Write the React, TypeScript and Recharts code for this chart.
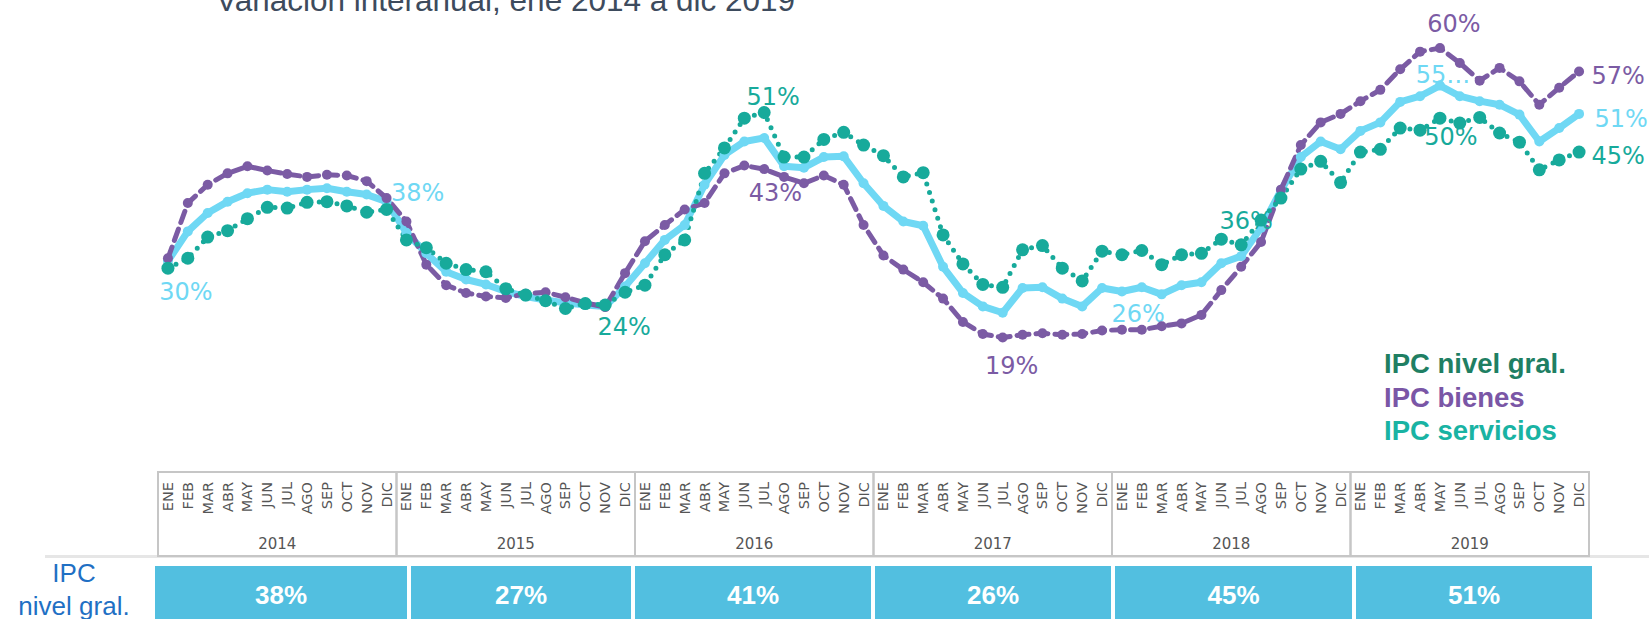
import { ComposedChart, Line, XAxis, YAxis } from "recharts";

const MONTHS = ["ENE", "FEB", "MAR", "ABR", "MAY", "JUN", "JUL", "AGO", "SEP", "OCT", "NOV", "DIC"];
const YEARS = ["2014", "2015", "2016", "2017", "2018", "2019"];

// variación interanual, % (ene 2014 .. dic 2019)
const IPC_GRAL = [
  29.8, 34.0, 36.6, 38.2, 39.4, 39.9, 39.6, 39.9, 40.1, 39.6, 39.2, 38.2,
  33.8, 30.9, 28.3, 27.2, 26.5, 25.5, 24.8, 24.3, 23.9, 23.6, 23.4, 26.2,
  29.5, 32.8, 34.9, 40.6, 44.8, 46.7, 47.2, 43.2, 43.0, 44.5, 44.6, 40.8,
  37.6, 35.4, 34.8, 29.0, 25.3, 23.4, 22.5, 26.0, 26.1, 24.5, 23.4, 26.0,
  25.5, 26.1, 25.1, 26.4, 26.8, 29.5, 30.5, 34.5, 39.8, 44.5, 46.7, 45.6,
  48.2, 49.4, 52.3, 53.1, 54.6, 53.1, 52.4, 51.9, 50.5, 46.7, 48.6, 50.6,
];
const IPC_BIENES = [
  30.2, 38.0, 40.6, 42.2, 43.2, 42.6, 42.1, 41.7, 42.0, 41.9, 41.1, 38.7,
  35.4, 29.3, 26.4, 25.3, 24.8, 24.6, 25.2, 25.4, 24.7, 23.9, 23.3, 28.1,
  32.6, 34.9, 37.1, 38.0, 42.2, 43.3, 42.8, 41.7, 40.8, 41.9, 40.6, 34.9,
  30.6, 28.6, 26.8, 24.5, 21.2, 19.5, 19.0, 19.4, 19.6, 19.4, 19.5, 20.0,
  20.1, 20.1, 20.6, 21.0, 22.2, 25.7, 29.0, 32.5, 39.9, 46.2, 49.4, 50.6,
  52.4, 54.0, 56.9, 59.4, 59.9, 57.8, 55.3, 57.1, 55.2, 51.9, 54.3, 56.6,
];
const IPC_SERVICIOS = [
  28.8, 30.2, 33.2, 34.1, 35.8, 37.4, 37.3, 38.1, 38.2, 37.6, 36.7, 37.1,
  32.8, 31.7, 29.5, 28.6, 28.3, 25.9, 25.0, 24.2, 23.1, 23.8, 23.6, 25.4,
  26.4, 30.7, 32.8, 42.2, 45.8, 50.0, 50.8, 44.5, 44.5, 47.0, 48.0, 46.2,
  44.7, 41.7, 42.3, 33.5, 29.4, 26.5, 26.1, 31.4, 32.0, 28.8, 27.0, 31.2,
  30.7, 31.3, 29.3, 30.7, 30.9, 32.9, 32.1, 35.6, 38.7, 42.8, 43.9, 40.9,
  45.2, 45.6, 48.6, 48.3, 50.0, 49.3, 50.1, 47.9, 46.6, 42.7, 44.1, 45.2,
];
const ANNUAL_GRAL = [38, 27, 41, 26, 45, 51];

const COLOR_GRAL = "#6fd8f4";
const COLOR_BIENES = "#7b5ba4";
const COLOR_SERV = "#17aa9b";

const W = 1649;
const H = 619;
const MARGIN = { top: 12, right: 60, bottom: 62, left: 158 };
const PLOT_W = W - MARGIN.left - MARGIN.right;
const STEP = PLOT_W / 72;

// label placement, offsets from the point (px)
type LabelSpec = { dx: number; dy: number; trunc?: boolean };
const LABELS_GRAL: Record<number, LabelSpec> = {
  0: { dx: 18, dy: 31 },
  11: { dx: 31, dy: -9 },
  47: { dx: 36, dy: 26 },
  64: { dx: 3, dy: -11, trunc: true },
  71: { dx: 42, dy: 5 },
};
const LABELS_BIENES: Record<number, LabelSpec> = {
  29: { dx: 31, dy: 27 },
  42: { dx: 9, dy: 28 },
  64: { dx: 14, dy: -24 },
  71: { dx: 39, dy: 5 },
};
const LABELS_SERV: Record<number, LabelSpec> = {
  22: { dx: 19, dy: 22 },
  30: { dx: 9, dy: -15 },
  55: { dx: -15, dy: 1 },
  64: { dx: 11, dy: 19 },
  71: { dx: 39, dy: 4 },
};

const data = IPC_GRAL.map((v, i) => ({
  idx: i,
  gral: v,
  bienes: IPC_BIENES[i],
  servicios: IPC_SERVICIOS[i],
}));

function makeDot(color: string, r: number, key: string, labels: Record<number, LabelSpec>) {
  return (p: any) => {
    const { cx, cy, index } = p;
    const v = p.payload[key];
    const lab = labels[index];
    return (
      <g key={`${key}-${index}`}>
        <circle cx={cx} cy={cy} r={r} fill={color} />
        {lab && (
          <text
            x={cx + lab.dx}
            y={cy + lab.dy}
            textAnchor="middle"
            dominantBaseline="central"
            fill={color}
            fontSize={24}
            fontFamily="DejaVu Sans"
          >
            {lab.trunc ? `${Math.round(v)}…` : `${Math.round(v)}%`}
          </text>
        )}
      </g>
    );
  };
}

function MonthTick(props: any) {
  const { x, y, payload } = props;
  const i = payload.value as number;
  const left = x - STEP / 2;
  return (
    <g>
      {i % 12 === 0 && (
        <g>
          <rect x={left} y={y} width={STEP * 12} height={84} fill="none" stroke="#c6c6c6" strokeWidth={2} />
          <text
            x={left + STEP * 6}
            y={y + 72}
            textAnchor="middle"
            dominantBaseline="central"
            fontSize={15}
            fontFamily="DejaVu Sans"
            fill="#555"
          >
            {YEARS[i / 12]}
          </text>
        </g>
      )}
      <text
        transform={`translate(${x},${y + 10}) rotate(-90)`}
        textAnchor="end"
        dominantBaseline="central"
        fontSize={14.5}
        fontFamily="DejaVu Sans"
        fill="#555"
      >
        {MONTHS[i % 12]}
      </text>
    </g>
  );
}

const BOX_WIDTHS = [252, 220, 236, 236, 237, 236];

export default function App() {
  return (
    <div
      style={{
        position: "fixed",
        left: 0,
        top: 0,
        width: W,
        height: H,
        overflow: "hidden",
        background: "#fff",
        fontFamily: "'Liberation Sans', Arial, sans-serif",
      }}
    >
      <div
        style={{
          position: "absolute",
          left: 216,
          top: -16,
          fontSize: 31.5,
          lineHeight: "32px",
          color: "#3d4b5d",
          whiteSpace: "nowrap",
        }}
      >
        Variación interanual, ene 2014 a dic 2019
      </div>

      <div style={{ position: "absolute", left: 45, top: 555, width: W - 45, height: 3, background: "#e6e6e6" }} />

      <div style={{ position: "absolute", left: 0, top: 0 }}>
        <ComposedChart width={W} height={H} data={data} margin={MARGIN}>
          <XAxis
            dataKey="idx"
            type="number"
            domain={[-0.5, 71.5]}
            ticks={data.map((d) => d.idx)}
            interval={0}
            height={85}
            axisLine={false}
            tickLine={false}
            tickSize={0}
            tickMargin={0}
            tick={(p: any) => <MonthTick {...p} />}
          />
          <YAxis hide type="number" domain={[0, 65]} />
          <Line
            dataKey="gral"
            type="linear"
            stroke={COLOR_GRAL}
            strokeWidth={7}
            strokeLinejoin="round"
            dot={makeDot(COLOR_GRAL, 5, "gral", LABELS_GRAL)}
            activeDot={false}
            isAnimationActive={false}
          />
          <Line
            dataKey="bienes"
            type="linear"
            stroke={COLOR_BIENES}
            strokeWidth={5}
            strokeDasharray="12 7"
            strokeLinecap="round"
            dot={makeDot(COLOR_BIENES, 5, "bienes", LABELS_BIENES)}
            activeDot={false}
            isAnimationActive={false}
          />
          <Line
            dataKey="servicios"
            type="linear"
            stroke={COLOR_SERV}
            strokeWidth={5}
            strokeDasharray="0 9"
            strokeLinecap="round"
            dot={makeDot(COLOR_SERV, 6.5, "servicios", LABELS_SERV)}
            activeDot={false}
            isAnimationActive={false}
          />
        </ComposedChart>
      </div>

      <div
        style={{
          position: "absolute",
          left: 1384,
          top: 347,
          fontWeight: "bold",
          fontSize: 27.5,
          lineHeight: "33.5px",
          whiteSpace: "nowrap",
        }}
      >
        <div style={{ color: "#1f7f63" }}>IPC nivel gral.</div>
        <div style={{ color: "#7a56a6" }}>IPC bienes</div>
        <div style={{ color: "#19b3a3" }}>IPC servicios</div>
      </div>

      <div
        style={{
          position: "absolute",
          left: 0,
          width: 148,
          top: 557,
          textAlign: "center",
          color: "#1f70c4",
          fontSize: 26,
          lineHeight: "33px",
        }}
      >
        IPC
        <br />
        nivel gral.
      </div>

      <div style={{ position: "absolute", left: 155, top: 566, display: "flex", gap: 4 }}>
        {ANNUAL_GRAL.map((v, i) => (
          <div
            key={YEARS[i]}
            style={{
              width: BOX_WIDTHS[i],
              height: 58,
              background: "#52bfe0",
              color: "#fff",
              fontWeight: "bold",
              fontSize: 26,
              display: "flex",
              alignItems: "center",
              justifyContent: "center",
            }}
          >
            {v}%
          </div>
        ))}
      </div>
    </div>
  );
}
